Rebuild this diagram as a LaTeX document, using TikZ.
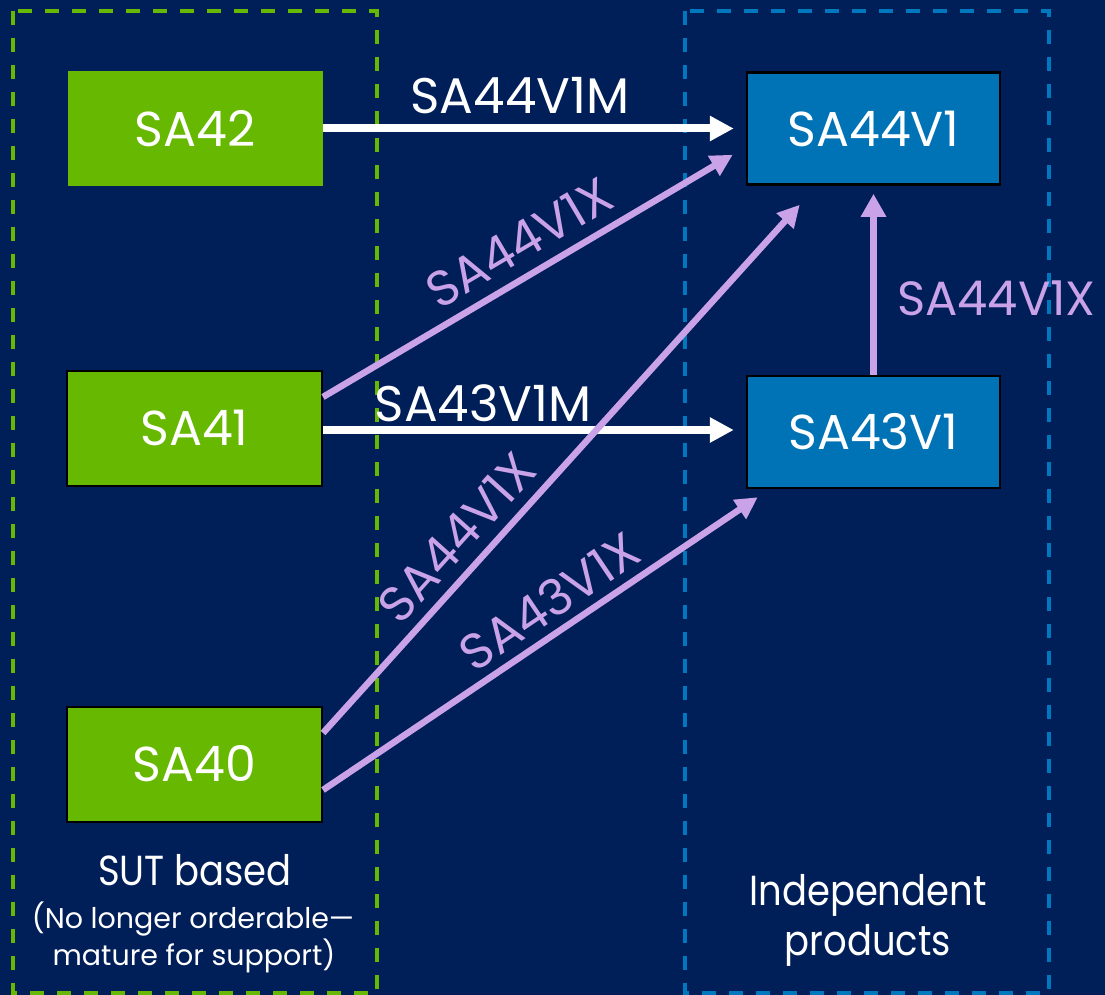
\documentclass[tikz,border=0pt]{standalone}
\usepackage{fontspec}
\setmainfont{Poppins}
\newfontfamily\narrowfont{Poppins}[FakeStretch=0.88]
\usetikzlibrary{arrows.meta,calc}
\definecolor{navy}{RGB}{0,30,88}
\definecolor{sgreen}{RGB}{102,184,0}
\definecolor{sblue}{RGB}{0,114,182}
\definecolor{dblue}{RGB}{0,120,190}
\definecolor{lav}{RGB}{202,162,232}
\tikzset{
  greenbox/.style={fill=sgreen, minimum width=255pt, minimum height=115pt, inner sep=0pt, text=white, font=\fontsize{49}{60}\selectfont},
  bluebox/.style={fill=sblue, draw=black, line width=2.5pt, minimum width=253pt, minimum height=112pt, inner sep=0pt, text=white, font=\fontsize{49}{60}\selectfont},
  grouping/.style={dash pattern=on 14pt off 13pt, line width=3.5pt},
  whitearrow/.style={draw=white, line width=8pt, -{Triangle[length=24pt,width=24pt]}},
  lavarrow/.style={draw=lav, line width=6.5pt, -{Triangle[length=22pt,width=22pt]}},
  lbl/.style={font=\fontsize{50}{58}\selectfont, inner sep=0pt},
  captionbig/.style={text=white, font=\narrowfont\fontsize{42}{54}\selectfont, inner sep=0pt, anchor=base},
  captionsmall/.style={text=white, font=\fontsize{28.5}{34}\selectfont, inner sep=0pt, anchor=base}
}
\begin{document}
\begin{tikzpicture}[x=1pt,y=-1pt]
\fill[navy] (0,0) rectangle (1105,995);
\useasboundingbox (0,0) rectangle (1105,995);
% group frames
\draw[grouping, draw=sgreen] (13,11) rectangle (377,993);
\draw[grouping, draw=dblue] (685,11) rectangle (1049,993);
% nodes
\node[greenbox] (SA42) at (195,128.5) {SA42};
\node[greenbox, draw=black, line width=2pt] (SA41) at (194.5,428) {SA41};
\node[greenbox, draw=black, line width=2pt] (SA40) at (194.5,764) {SA40};
\node[bluebox] (SA44V1) at (873.5,128.5) {SA44V1};
\node[bluebox] (SA43V1) at (873.5,432) {SA43V1};
% captions
\node[captionbig] (sut1) at (195,885) {SUT based};
\node[captionsmall] (sut2) at (193,928) {(No longer orderable—};
\node[captionsmall] (sut3) at (194,965) {mature for support)};
\node[captionbig] (ind1) at (868,905) {Independent};
\node[captionbig] (ind2) at (868,955) {products};
% white arrows
\draw[whitearrow] (SA42.east) -- ($(SA42.east -| SA44V1.west)+(-12,0)$)
  node[lbl, text=white, pos=0.48, above=15pt, anchor=base] {SA44V1M};
\draw[whitearrow] ($(SA41.east)+(0,2)$) -- ($(SA41.east -| SA43V1.west)+(-12,2)$)
  node[lbl, text=white, pos=0.39, above=9pt, anchor=base] {SA43V1M};
% lavender arrows
\draw[lavarrow] ($(SA41.east)+(0,-31)$) -- ($(SA44V1.south west)+(-13,-31)$)
  node[lbl, text=lav, sloped, pos=0.52, above=15pt, anchor=base] {SA44V1X};
\draw[lavarrow] ($(SA40.east)+(0,-31)$) -- ($(SA44V1.south west)+(54,19)$)
  node[lbl, text=lav, sloped, pos=0.33, above=14pt, anchor=base] {SA44V1X};
\draw[lavarrow] ($(SA40.east)+(0,26)$) -- ($(SA43V1.south west)+(12,8)$)
  node[lbl, text=lav, sloped, pos=0.56, above=12pt, anchor=base] {SA43V1X};
\draw[lavarrow, line width=7.5pt, -{Triangle[length=23pt,width=24pt]}] (SA43V1.north) -- ($(SA44V1.south)+(0,8)$)
  node[lbl, text=lav, pos=0.42, right=20pt, anchor=west, font=\fontsize{48}{56}\selectfont] {SA44V1X};
\end{tikzpicture}
\end{document}
